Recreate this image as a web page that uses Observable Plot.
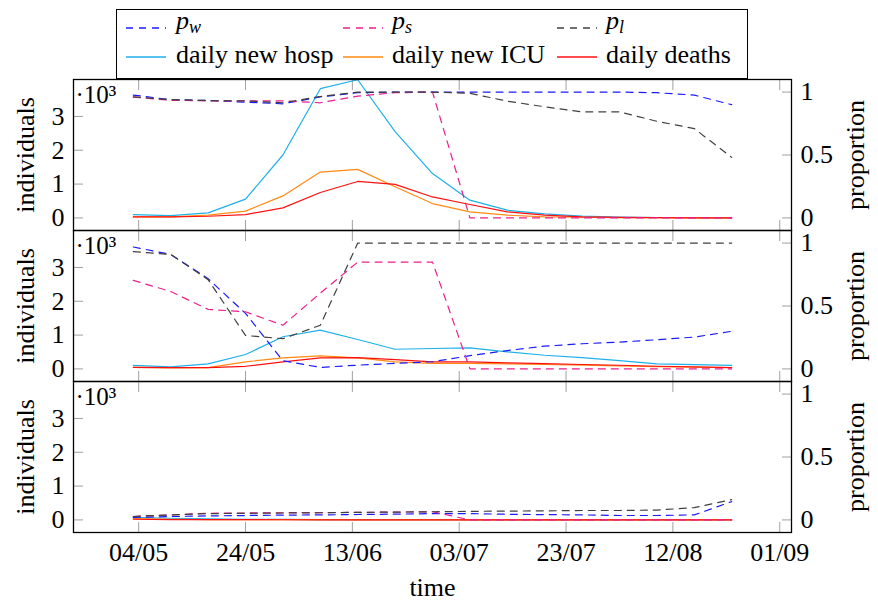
<!DOCTYPE html>
<html>
<head>
<meta charset="utf-8">
<script src="https://cdn.jsdelivr.net/npm/d3@7"></script>
<script src="https://cdn.jsdelivr.net/npm/@observablehq/plot@0.6"></script>
<style>
  html, body { margin: 0; padding: 0; background: #fff; }
  body { font-family: "Liberation Serif", "Times New Roman", Tinos, serif; }
  #wrap { position: relative; width: 878px; height: 601px; }
  #header { position: relative; width: 878px; height: 78px; }
  #legendBox { position: absolute; left: 116px; top: 9px; width: 632px; height: 70px;
    box-sizing: border-box; border: 1.3px solid #000; background: #fff; }
  .sw { position: absolute; width: 40px; height: 4px; }
  .lt { position: absolute; font-size: 26px; line-height: 26px; white-space: nowrap; color: #000; }
  .lt i { font-style: italic; }
  .lt sub { font-style: italic; font-size: 18px; vertical-align: -4px; line-height: 0; }
  #chart { position: relative; }
</style>
</head>
<body>
<div id="wrap">
  <div id="header"><div id="legendBox"></div></div>
  <div id="chart"></div>
</div>
<script>
// ---------- data ----------
const dates = ["2020-05-03","2020-05-10","2020-05-17","2020-05-24","2020-05-31","2020-06-07",
  "2020-06-14","2020-06-21","2020-06-28","2020-07-05","2020-07-12","2020-07-19",
  "2020-07-26","2020-08-02","2020-08-09","2020-08-16","2020-08-23"];

// panel 1
const hosp1   = [100, 70, 150, 555, 1860, 3820, 4085, 2550, 1310, 525, 228, 120, 55, 25, 12, 6, 3];
const icu1    = [30, 30, 80, 200, 650, 1355, 1435, 920, 425, 178, 80, 30, 20, 10, 5, 3, 2];
const deaths1 = [30, 30, 50, 98, 297, 752, 1078, 990, 620, 396, 178, 80, 30, 15, 8, 4, 2];
const pw1 = [0.976, 0.94, 0.933, 0.92, 0.907, 0.962, 0.995, 1.0, 1.0, 1.0, 1.0, 1.0, 1.0, 1.0, 0.995, 0.976, 0.90];
const ps1 = [0.96, 0.935, 0.93, 0.93, 0.93, 0.915, 0.968, 0.995, 1.0, 0, 0, 0, 0, 0, 0, 0, 0];
const pl1 = [0.962, 0.94, 0.933, 0.93, 0.915, 0.965, 1.0, 1.0, 1.0, 0.99, 0.928, 0.883, 0.843, 0.843, 0.768, 0.71, 0.481];

// panel 2
const hosp2   = [107, 60, 148, 425, 950, 1146, 870, 582, 603, 624, 505, 404, 336, 247, 148, 128, 107];
const icu2    = [48, 30, 40, 208, 327, 386, 327, 208, 166, 166, 148, 130, 110, 90, 70, 50, 40];
const deaths2 = [48, 40, 40, 78, 208, 327, 336, 277, 208, 208, 178, 158, 130, 109, 79, 60, 40];
const pw2 = [0.969, 0.91, 0.717, 0.441, 0.065, 0.012, 0.03, 0.044, 0.057, 0.105, 0.146, 0.181, 0.2, 0.213, 0.232, 0.253, 0.299];
const ps2 = [0.704, 0.615, 0.473, 0.454, 0.347, 0.602, 0.849, 0.849, 0.849, 0, 0, 0, 0, 0, 0, 0, 0];
const pl2 = [0.932, 0.91, 0.709, 0.266, 0.24, 0.347, 1.0, 1.0, 1.0, 1.0, 1.0, 1.0, 1.0, 1.0, 1.0, 1.0, 1.0];

// panel 3
const hosp3   = [77, 50, 30, 20, 15, 10, 8, 6, 5, 4, 3, 3, 2, 2, 2, 2, 2];
const icu3    = [40, 20, 10, 8, 6, 5, 4, 3, 3, 2, 2, 2, 1, 1, 1, 1, 1];
const deaths3 = [20, 10, 8, 6, 5, 4, 3, 3, 2, 2, 2, 1, 1, 1, 1, 1, 1];
const pw3 = [0.02, 0.027, 0.032, 0.035, 0.038, 0.04, 0.043, 0.046, 0.05, 0.05, 0.045, 0.042, 0.04, 0.035, 0.035, 0.04, 0.145];
const ps3 = [0.027, 0.04, 0.053, 0.055, 0.057, 0.058, 0.06, 0.062, 0.065, 0, 0, 0, 0, 0, 0, 0, 0];
const pl3 = [0.027, 0.04, 0.05, 0.052, 0.055, 0.057, 0.06, 0.062, 0.065, 0.068, 0.07, 0.072, 0.075, 0.075, 0.078, 0.098, 0.161];

// series / ticks
const solidNames  = ["daily new hosp", "daily new ICU", "daily deaths"];
const dashedNames = ["p_w", "p_s", "p_l"];
const xTickLabels = ["2020-05-04","2020-05-24","2020-06-13","2020-07-03","2020-07-23","2020-08-12","2020-09-01"];
const leftTicks  = [0, 1000, 2000, 3000];
const rightTicks = [0, 0.5, 1];

// ---------- styles ----------
const FONT = "'Liberation Serif', 'Times New Roman', Tinos, serif";
const colors = {
  "daily new hosp": "#1fb0ea", "daily new ICU": "#ff8a14", "daily deaths": "#ff1010",
  "p_w": "#1a1aff", "p_s": "#ec1f8e", "p_l": "#404040"
};
const PROP = 3720; // proportion 1 on the right axis equals this many individuals on the left axis

// ---------- build tables ----------
const panelSolid  = [[hosp1, icu1, deaths1], [hosp2, icu2, deaths2], [hosp3, icu3, deaths3]];
const panelDashed = [[pw1, ps1, pl1], [pw2, ps2, pl2], [pw3, ps3, pl3]];
const parse = d3.utcParse("%Y-%m-%d");
const solidRows = [], dashedRows = [];
panelSolid.forEach((arrs, p) => arrs.forEach((arr, s) => arr.forEach((v, i) =>
  solidRows.push({panel: p, series: solidNames[s], date: parse(dates[i]), value: v}))));
panelDashed.forEach((arrs, p) => arrs.forEach((arr, s) => arr.forEach((v, i) =>
  dashedRows.push({panel: p, series: dashedNames[s], date: parse(dates[i]), value: v * PROP}))));

const first = parse(dates[0]), last = parse(dates[dates.length - 1]);
const pad = (last - first) * 0.1;
const xDomain = [new Date(+first - pad), new Date(+last + pad)];

const chart = Plot.plot({
  width: 878,
  height: 523,
  marginLeft: 73,
  marginRight: 87,
  marginTop: 1,
  marginBottom: 69,
  style: {fontFamily: FONT, fontSize: "26px", background: "transparent", overflow: "visible"},
  x: {type: "utc", domain: xDomain},
  y: {domain: [-0.1 * PROP, 1.1 * PROP]},
  fy: {domain: [0, 1, 2], padding: 0, axis: null},
  color: {domain: [...solidNames, ...dashedNames], range: [...solidNames, ...dashedNames].map(n => colors[n])},
  marks: [
    // inner tick marks
    Plot.axisX({anchor: "bottom", ticks: xTickLabels.map(parse), tickSize: -10, stroke: "#a0a0a0", fill: "none", facetAnchor: null, label: null}),
    Plot.axisX({anchor: "top", ticks: xTickLabels.map(parse), tickSize: -10, stroke: "#a0a0a0", fill: "none", facetAnchor: null, label: null}),
    Plot.axisY({anchor: "left", ticks: leftTicks, tickSize: -10, stroke: "#a0a0a0", fill: "none", label: null}),
    Plot.axisY({anchor: "right", ticks: rightTicks.map(p => p * PROP), tickSize: -10, stroke: "#a0a0a0", fill: "none", label: null}),
    // tick labels
    Plot.axisX({anchor: "bottom", ticks: xTickLabels.map(parse), tickSize: 0, tickPadding: 10, tickFormat: d3.utcFormat("%d/%m"), label: null}),
    Plot.axisY({anchor: "left", ticks: leftTicks, tickSize: 0, tickPadding: 9, tickFormat: d => String(d / 1000), label: null}),
    Plot.axisY({anchor: "right", ticks: rightTicks.map(p => p * PROP), tickSize: 0, tickPadding: 9, tickFormat: v => String(+(v / PROP).toFixed(2)), label: null}),
    // series
    Plot.line(solidRows, {x: "date", y: "value", z: "series", stroke: "series", fy: "panel", strokeWidth: 1.2}),
    Plot.line(dashedRows, {x: "date", y: "value", z: "series", stroke: "series", fy: "panel", strokeWidth: 1.2, strokeDasharray: "7,6"}),
    // frame
    Plot.frame({stroke: "#000", strokeWidth: 1.3}),
    // labels
    Plot.text(["·10³"], {frameAnchor: "top-left", textAnchor: "start", lineAnchor: "top", dx: 2, dy: 6, fontSize: 25}),
    Plot.text(["individuals"], {frameAnchor: "left", textAnchor: "middle", rotate: -90, dx: -48, fontSize: 26}),
    Plot.text(["proportion"], {frameAnchor: "right", textAnchor: "middle", rotate: -90, dx: 64, fontSize: 26}),
    Plot.text([{label: "time", panel: 2}], {text: "label", fy: "panel", frameAnchor: "bottom", textAnchor: "middle", dy: 63, fontSize: 26})
  ]
});
document.getElementById("chart").appendChild(chart);

// ---------- legend (HTML, above the SVG) ----------
const header = document.getElementById("header");
const legendItems = [
  {key: "p_w", html: "<i>p</i><sub>w</sub>", dashed: true},
  {key: "p_s", html: "<i>p</i><sub>s</sub>", dashed: true},
  {key: "p_l", html: "<i>p</i><sub>l</sub>", dashed: true},
  {key: "daily new hosp", html: "daily new hosp", dashed: false},
  {key: "daily new ICU", html: "daily new ICU", dashed: false},
  {key: "daily deaths", html: "daily deaths", dashed: false}
];
const colSwatchX = [126, 343, 557];
const colTextX = [176, 392, 606];
const rowLineY = [28, 57];
const rowBaseline = [30, 64];
legendItems.forEach((it, k) => {
  const col = k % 3, row = Math.floor(k / 3);
  const sw = document.createElementNS("http://www.w3.org/2000/svg", "svg");
  sw.setAttribute("class", "sw");
  sw.setAttribute("width", 40); sw.setAttribute("height", 4);
  sw.style.left = colSwatchX[col] + "px";
  sw.style.top = (rowLineY[row] - 2) + "px";
  const ln = document.createElementNS("http://www.w3.org/2000/svg", "line");
  ln.setAttribute("x1", 0); ln.setAttribute("x2", 40); ln.setAttribute("y1", 2); ln.setAttribute("y2", 2);
  ln.setAttribute("stroke", colors[it.key]); ln.setAttribute("stroke-width", 1.3);
  if (it.dashed) ln.setAttribute("stroke-dasharray", "7,6");
  sw.appendChild(ln);
  header.appendChild(sw);
  const t = document.createElement("div");
  t.className = "lt";
  t.innerHTML = it.html;
  t.style.left = colTextX[col] + "px";
  t.style.top = (rowBaseline[row] - 21.8) + "px";
  header.appendChild(t);
});
</script>
</body>
</html>
